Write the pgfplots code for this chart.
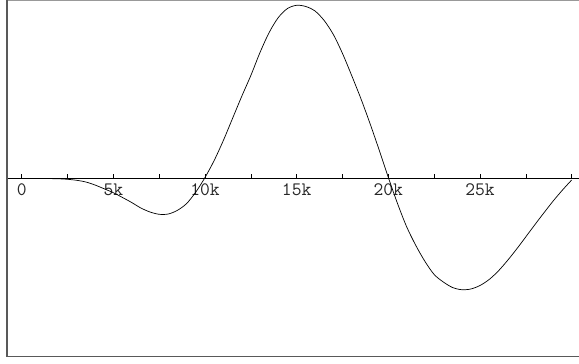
\documentclass[border=0pt]{standalone}
\usepackage{pgfplots}
\pgfplotsset{compat=1.18}
\begin{document}
\begin{tikzpicture}[x=1pt,y=1pt]
\useasboundingbox (-7,-7.5) rectangle (572,356.5);
\begin{axis}[
  scale only axis,
  width=572pt, height=356pt,
  xmin=-0.8, xmax=30.4,
  ymin=-178, ymax=178,
  axis x line=middle,
  axis y line=none,
  axis line style={-, black, line width=0.8pt},
  xtick={0,2.5,5,7.5,10,12.5,15,17.5,20,22.5,25,27.5,30},
  xticklabels={0,,5k,,10k,,15k,,20k,,25k,,},
  xtick align=inside,
  major tick length=4pt,
  tick style={black, line width=0.6pt},
  xticklabel style={font=\ttfamily\fontsize{19}{22}\selectfont, text=black!85, inner sep=1pt, yshift=-4pt},
  clip=false,
]
\addplot[black, line width=0.7pt, smooth, tension=0.5] coordinates {
(0,0) (0.5,0) (1,0) (1.5,-0.1) (2,-0.3) (2.5,-0.8) (3,-1.8) (3.5,-3.5)
(4,-6.5) (4.5,-10.3) (5,-14.2) (5.5,-19) (6,-24) (6.5,-29.5) (7,-33.5)
(7.5,-35.8) (8,-35.5) (8.5,-31.8) (9,-25) (9.5,-13.5) (10,1) (10.5,18)
(11,38) (11.5,60) (12,82) (12.5,103) (13,126) (13.5,146) (14,161) (14.5,170)
(15,173.2) (15.5,172) (16,167.5) (16.5,158) (17,144) (17.5,125) (18,103)
(18.5,80) (19,55) (19.5,28.5) (20,1) (20.5,-25) (21,-48.3) (21.5,-67)
(22,-83) (22.5,-96) (23,-103.5) (23.5,-109) (24,-111.2) (24.5,-110.5)
(25,-107) (25.5,-101) (26,-92.5) (26.5,-82) (27,-70.5) (27.5,-58.3) (28,-46)
(28.5,-34) (29,-22.3) (29.5,-11.5) (30,-1.5)
};
\draw[black!40, line width=1pt] (rel axis cs:0,1) -- (rel axis cs:1,1);
\draw[black!65, line width=1.6pt] (rel axis cs:0,1) -- (rel axis cs:0,0) -- (rel axis cs:1,0);
\end{axis}
\end{tikzpicture}
\end{document}
